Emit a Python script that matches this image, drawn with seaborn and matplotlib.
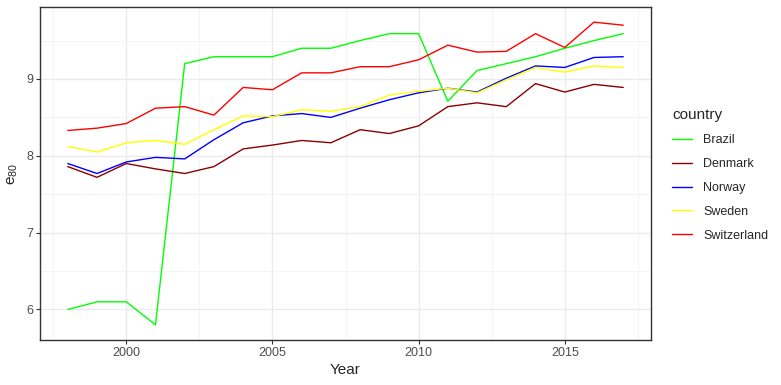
import matplotlib
matplotlib.use("Agg")
import matplotlib.pyplot as plt
import pandas as pd
import seaborn as sns
from matplotlib.ticker import MultipleLocator

years = list(range(1998, 2018))
brazil = [6.00, 6.10, 6.10, 5.80, 9.20, 9.29, 9.29, 9.29, 9.40, 9.40,
          9.50, 9.59, 9.59, 8.71, 9.11, 9.20, 9.29, 9.40, 9.50, 9.59]
denmark = [7.86, 7.72, 7.90, 7.83, 7.77, 7.86, 8.09, 8.14, 8.20, 8.17,
           8.34, 8.29, 8.39, 8.64, 8.69, 8.64, 8.94, 8.83, 8.93, 8.89]
norway = [7.90, 7.77, 7.92, 7.98, 7.96, 8.21, 8.43, 8.52, 8.55, 8.50,
          8.62, 8.73, 8.82, 8.88, 8.83, 9.01, 9.17, 9.15, 9.28, 9.29]
sweden = [8.12, 8.05, 8.17, 8.20, 8.15, 8.34, 8.52, 8.51, 8.60, 8.58,
          8.64, 8.79, 8.84, 8.88, 8.82, 8.99, 9.15, 9.09, 9.17, 9.15]
switzerland = [8.33, 8.36, 8.42, 8.62, 8.64, 8.53, 8.89, 8.86, 9.08, 9.08,
               9.16, 9.16, 9.25, 9.44, 9.35, 9.36, 9.59, 9.41, 9.74, 9.70]

countries = ["Brazil", "Denmark", "Norway", "Sweden", "Switzerland"]
series = [brazil, denmark, norway, sweden, switzerland]
colours = {"Brazil": "#00ff00", "Denmark": "#8b0000", "Norway": "#0000ff",
           "Sweden": "#ffff00", "Switzerland": "#ff0000"}

df = pd.DataFrame(
    [(y, c, v) for c, vals in zip(countries, series) for y, v in zip(years, vals)],
    columns=["Year", "country", "e80"],
)

sns.set_theme(style="white")
plt.rcParams["font.family"] = ["Liberation Sans", "DejaVu Sans"]
plt.rcParams["mathtext.default"] = "regular"

fig = plt.figure(figsize=(7.81, 3.85), dpi=100)
ax = fig.add_axes([40 / 781, 1 - 340 / 385, 611 / 781, 333 / 385])

sns.lineplot(data=df, x="Year", y="e80", hue="country", palette=colours,
             hue_order=countries, linewidth=1.0, ax=ax, legend=False)

ax.set_xlim(1997.05, 2017.95)
ax.set_ylim(5.603, 9.937)
ax.xaxis.set_major_locator(MultipleLocator(5))
ax.xaxis.set_minor_locator(MultipleLocator(2.5))
ax.yaxis.set_major_locator(MultipleLocator(1))
ax.yaxis.set_minor_locator(MultipleLocator(0.5))
ax.grid(which="major", color="#ebebeb", linewidth=1.0)
ax.grid(which="minor", color="#f2f2f2", linewidth=0.6)
ax.set_axisbelow(True)
for s in ax.spines.values():
    s.set_color("#333333")
    s.set_linewidth(1.0)
ax.tick_params(axis="both", which="major", length=3, width=0.8, color="#333333",
               labelsize=9, labelcolor="#4d4d4d", pad=2, left=True, bottom=True)
ax.tick_params(which="minor", length=0)
ax.set_xlabel("Year", fontsize=11, labelpad=3)
ax.set_ylabel("e$_{80}$", fontsize=11, labelpad=4)

handles = [plt.Line2D([], [], color=colours[c], linewidth=1.0) for c in countries]
leg = fig.legend(handles, countries, title="country", loc="upper left",
                 bbox_to_anchor=(661 / 781, 1 - 97 / 385), frameon=False,
                 fontsize=9, title_fontsize=11, handlelength=1.6,
                 labelspacing=0.95, handletextpad=0.9, alignment="left")

fig.savefig("out.png", dpi=100)
